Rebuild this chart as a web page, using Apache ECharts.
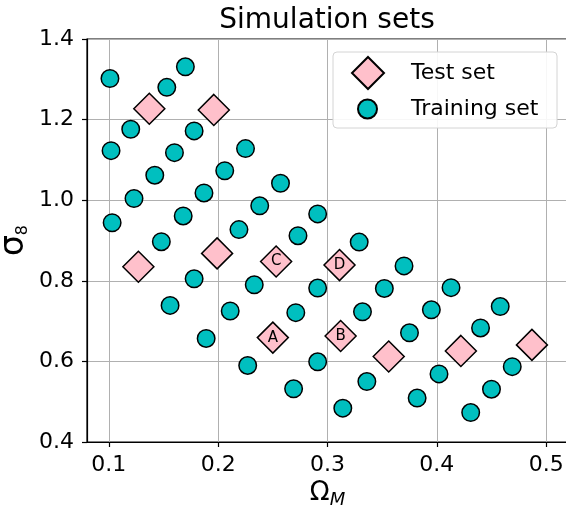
<!DOCTYPE html>
<html>
<head>
<meta charset="utf-8">
<script src="https://cdn.jsdelivr.net/npm/echarts@6/dist/echarts.min.js"></script>
<style>
  html, body { margin: 0; padding: 0; background: #fff; }
  #chart { width: 566px; height: 508px; }
</style>
</head>
<body>
<div id="chart"></div>
<script>
// Training simulations (Omega_M, sigma_8)
const trainOmega = [0.101, 0.153, 0.170, 0.120, 0.178, 0.102, 0.160, 0.142, 0.225, 0.206,
                    0.187, 0.123, 0.168, 0.103, 0.238, 0.219, 0.257, 0.291, 0.273, 0.148,
                    0.178, 0.156, 0.233, 0.211, 0.189, 0.227, 0.329, 0.370, 0.291, 0.352,
                    0.413, 0.271, 0.332, 0.395, 0.458, 0.375, 0.440, 0.291, 0.402, 0.469,
                    0.269, 0.336, 0.450, 0.382, 0.314, 0.431];
const trainSigma = [1.302, 1.280, 1.331, 1.176, 1.172, 1.123, 1.118, 1.062, 1.128, 1.073,
                    1.018, 1.004, 0.961, 0.944, 0.986, 0.927, 1.042, 0.966, 0.912, 0.897,
                    0.805, 0.739, 0.790, 0.725, 0.657, 0.590, 0.896, 0.837, 0.782, 0.781,
                    0.783, 0.721, 0.723, 0.728, 0.736, 0.671, 0.683, 0.599, 0.569, 0.587,
                    0.532, 0.550, 0.531, 0.509, 0.484, 0.473];

// Test simulations, some of them tagged A-D
const testOmega = [0.137, 0.196, 0.127, 0.199, 0.253, 0.250, 0.311, 0.312, 0.356, 0.422, 0.487];
const testSigma = [1.227, 1.224, 0.835, 0.868, 0.848, 0.659, 0.839, 0.663, 0.612, 0.626, 0.641];
const testTags  = ['', '', '', '', 'C', 'A', 'D', 'B', '', '', ''];

const xTicks = [0.1, 0.2, 0.3, 0.4, 0.5];

const FONT = 'DejaVu Sans';

const chart = echarts.init(document.getElementById('chart'), null, { renderer: 'canvas' });

const trainData = trainOmega.map((x, i) => [x, trainSigma[i]]);
const testData = testOmega.map((x, i) => ({ value: [x, testSigma[i]], tag: testTags[i] }));

chart.setOption({
  animation: false,
  backgroundColor: '#fff',
  textStyle: { fontFamily: FONT },
  grid: {
    left: 87, top: 39, width: 481, height: 403,
    outerBoundsMode: 'none',
    show: true, borderColor: '#000', borderWidth: 1.2, backgroundColor: 'transparent'
  },
  xAxis: {
    type: 'value', min: 0.08, max: 0.52,
    name: '{a|Ω}{s|M}', nameLocation: 'middle', nameGap: 38, nameMoveOverlap: false,
    nameTextStyle: {
      color: '#000',
      rich: {
        a: { fontFamily: FONT, fontSize: 26, lineHeight: 30, verticalAlign: 'top', color: '#000' },
        s: { fontFamily: FONT, fontSize: 18, lineHeight: 18, verticalAlign: 'top', fontStyle: 'italic', padding: [11, 0, 0, 0], color: '#000' }
      }
    },
    axisLine: { show: true, onZero: false, lineStyle: { color: '#000', width: 1.2 } },
    axisTick: { show: true, length: 5, customValues: xTicks, lineStyle: { color: '#000', width: 1.2 } },
    axisLabel: { customValues: xTicks, margin: 12, fontSize: 22, color: '#000', fontFamily: FONT,
                 formatter: v => v.toFixed(1) },
    splitLine: { show: true, lineStyle: { color: '#b0b0b0', width: 1 } }
  },
  yAxis: {
    type: 'value', min: 0.4, max: 1.4, interval: 0.2,
    name: '{a|σ}{s|8}', nameLocation: 'middle', nameRotate: 90, nameGap: 52, nameMoveOverlap: false,
    nameTextStyle: {
      color: '#000',
      rich: {
        a: { fontFamily: FONT, fontSize: 33, lineHeight: 37, verticalAlign: 'top', color: '#000' },
        s: { fontFamily: FONT, fontSize: 16, lineHeight: 16, verticalAlign: 'top', padding: [17, 0, 0, 0], color: '#000' }
      }
    },
    axisLine: { show: true, onZero: false, lineStyle: { color: '#000', width: 1.2 } },
    axisTick: { show: true, length: 5, lineStyle: { color: '#000', width: 1.2 } },
    axisLabel: { margin: 13, fontSize: 22, color: '#000', fontFamily: FONT,
                 formatter: v => v.toFixed(1) },
    splitLine: { show: true, lineStyle: { color: '#b0b0b0', width: 1 } }
  },
  legend: [
    {
      data: ['Test set'], left: 351, top: 56, padding: 0,
      icon: 'diamond', itemWidth: 32, itemHeight: 32,
      textStyle: { fontSize: 22, color: '#000', fontFamily: FONT, padding: [0, 0, 0, 22] },
      z: 10
    },
    {
      data: ['Training set'], left: 357, top: 98, padding: 0,
      icon: 'circle', itemWidth: 19, itemHeight: 19,
      textStyle: { fontSize: 22, color: '#000', fontFamily: FONT, padding: [0, 0, 0, 29] },
      z: 10
    }
  ],
  graphic: [
    {
      type: 'rect', z: 5,
      shape: { x: 333, y: 52, width: 224, height: 76, r: 4 },
      style: { fill: 'rgba(255,255,255,0.9)', stroke: '#d4d4d4', lineWidth: 1 }
    },
    {
      type: 'text', z: 5,
      style: { x: 327, y: 21, text: 'Simulation sets', align: 'center', verticalAlign: 'middle',
               fontSize: 28, fontFamily: FONT, fill: '#000' }
    }
  ],
  series: [
    {
      name: 'Test set', type: 'scatter', symbol: 'diamond', symbolSize: 31,
      itemStyle: { color: '#ffc0cb', borderColor: '#000', borderWidth: 1.5, opacity: 1 },
      label: {
        show: true, position: 'inside', fontSize: 15, color: '#000', fontFamily: FONT,
        formatter: p => p.data.tag
      },
      data: testData, z: 2
    },
    {
      name: 'Training set', type: 'scatter', symbol: 'circle', symbolSize: 17.5,
      itemStyle: { color: '#00bfbf', borderColor: '#000', borderWidth: 1.5, opacity: 1 },
      data: trainData, z: 3
    }
  ]
});
</script>
</body>
</html>
